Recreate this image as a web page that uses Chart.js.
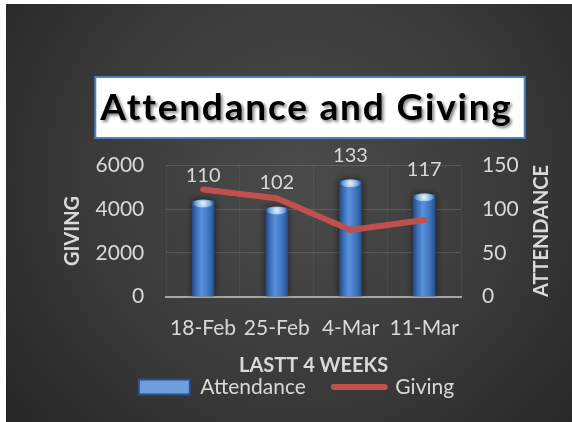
<!DOCTYPE html>
<html><head><meta charset="utf-8">
<script src="https://cdn.jsdelivr.net/npm/chart.js@4.4.1/dist/chart.umd.min.js"></script>
<style>
html,body{margin:0;padding:0;background:#fff;width:572px;height:422px;overflow:hidden}
#wrap{position:absolute;left:6px;top:4px;width:566px;height:418px}
</style></head><body>
<div id="wrap"><canvas id="c" width="566" height="418"></canvas></div>
<script>
const categories = ['18-Feb', '25-Feb', '4-Mar', '11-Mar'];
const attendance = [110, 102, 133, 117];
const giving = [4900, 4500, 3050, 3500];
const givingTicks = [0, 2000, 4000, 6000];
const attendanceTicks = [0, 50, 100, 150];
const titleText = 'Attendance and Giving';
const xTitle = 'LASTT 4 WEEKS';
const yTitle = 'GIVING';
const y1Title = 'ATTENDANCE';
const seriesNames = ['Attendance', 'Giving'];

const FONT = 'Lato, "DejaVu Sans", sans-serif';
const TXT = '#d9d9d9';
const BAR_PCT = 0.31;

function barFill(ctx) {
  const chart = ctx.chart;
  const xs = chart.scales.x;
  if (!xs || ctx.dataIndex === undefined || !isFinite(xs.width)) return '#4f81bd';
  const cx = xs.getPixelForValue(ctx.dataIndex);
  const half = (xs.width / categories.length) * BAR_PCT / 2;
  const g = chart.ctx.createLinearGradient(cx - half, 0, cx + half, 0);
  g.addColorStop(0, '#22467a');
  g.addColorStop(0.2, '#3a6eb8');
  g.addColorStop(0.42, '#5890da');
  g.addColorStop(0.62, '#4a80cc');
  g.addColorStop(0.85, '#3466ad');
  g.addColorStop(1, '#22467a');
  return g;
}

const bgPlugin = {
  id: 'bg',
  beforeDraw(chart) {
    const {ctx, width, height} = chart;
    ctx.save();
    const g = ctx.createRadialGradient(width * 0.52, height * 0.42, 10, width * 0.52, height * 0.42, width * 0.64);
    g.addColorStop(0, '#4a4a4a');
    g.addColorStop(0.55, '#3b3b3b');
    g.addColorStop(1, '#282828');
    ctx.fillStyle = g;
    ctx.fillRect(0, 0, width, height);
    ctx.restore();
  },
  beforeDatasetsDraw(chart) {
    const tb = chart.titleBlock;
    if (!tb) return;
    const ctx = chart.ctx;
    const o = chart.options.plugins.title;
    const f = Chart.helpers.toFont(o.font);
    const pad = Chart.helpers.toPadding(o.padding);
    ctx.save();
    ctx.font = f.string;
    ctx.letterSpacing = '1.8px';
    const w = ctx.measureText(titleText).width;
    const cx = (tb.left + tb.right) / 2 + 10;
    const cy = tb.top + pad.top + f.lineHeight / 2;
    const bl = cx - w / 2 - 5, br = cx + w / 2 + 12;
    ctx.fillStyle = '#ffffff';
    ctx.fillRect(bl, cy - 31, br - bl, 61);
    ctx.strokeStyle = '#4f81bd';
    ctx.lineWidth = 2;
    ctx.strokeRect(bl, cy - 31, br - bl, 61);
    ctx.textAlign = 'center';
    ctx.textBaseline = 'middle';
    ctx.filter = 'blur(1.5px)';
    ctx.fillStyle = 'rgba(0,0,0,0.5)';
    ctx.fillText(titleText, cx + 2, cy + 2.5);
    ctx.filter = 'none';
    ctx.fillStyle = '#000000';
    ctx.fillText(titleText, cx, cy);
    ctx.restore();
  },
  beforeDatasetDraw(chart, args) {
    if (args.index === 0) {
      chart.ctx.save();
      chart.ctx.shadowColor = 'rgba(0,0,0,0.65)';
      chart.ctx.shadowBlur = 7;
    }
  },
  afterDatasetDraw(chart, args) {
    if (args.index === 0) {
      const ctx = chart.ctx;
      ctx.restore();
      ctx.save();
      args.meta.data.forEach(el => {
        const hw = el.width / 2;
        const g = ctx.createRadialGradient(el.x, el.y + 3, 1, el.x, el.y + 3, hw);
        g.addColorStop(0, 'rgba(225,240,255,0.95)');
        g.addColorStop(0.6, 'rgba(160,205,245,0.6)');
        g.addColorStop(1, 'rgba(120,170,230,0)');
        ctx.fillStyle = g;
        ctx.beginPath();
        ctx.ellipse(el.x, el.y + 3, hw - 1, 4, 0, 0, Math.PI * 2);
        ctx.fill();
      });
      ctx.restore();
    }
  },
  afterDatasetsDraw(chart) {
    const ctx = chart.ctx;
    const meta = chart.getDatasetMeta(0);
    ctx.save();
    ctx.font = '20px ' + FONT;
    ctx.fillStyle = TXT;
    ctx.textAlign = 'center';
    ctx.textBaseline = 'middle';
    meta.data.forEach((el, i) => {
      ctx.fillText(String(attendance[i]), el.x, el.y - 25);
    });
    ctx.restore();
  },
  afterDraw(chart) {
    const s = chart.scales.y1;
    const ctx = chart.ctx;
    const t = s.options.title;
    const f = Chart.helpers.toFont(t.font);
    const pad = Chart.helpers.toPadding(t.padding);
    const x = s.right - pad.top - f.lineHeight / 2;
    const y = (s.top + s.bottom) / 2;
    ctx.save();
    ctx.translate(x, y);
    ctx.rotate(-Math.PI / 2);
    ctx.font = f.string;
    ctx.fillStyle = TXT;
    ctx.textAlign = 'center';
    ctx.textBaseline = 'middle';
    ctx.fillText(y1Title, 0, 0);
    ctx.restore();
  }
};

new Chart(document.getElementById('c'), {
  data: {
    labels: categories,
    datasets: [
      {
        type: 'bar', label: seriesNames[0], data: attendance, yAxisID: 'y1', order: 2,
        backgroundColor: barFill, borderWidth: 0,
        categoryPercentage: 1, barPercentage: BAR_PCT
      },
      {
        type: 'line', label: seriesNames[1], data: giving, yAxisID: 'y', order: 1,
        borderColor: '#c0504d', borderWidth: 6, pointRadius: 0, tension: 0,
        borderCapStyle: 'round', borderJoinStyle: 'round', fill: false
      }
    ]
  },
  options: {
    responsive: false,
    animation: false,
    devicePixelRatio: 1,
    layout: {padding: {left: 30, right: 15, top: 0, bottom: 14.5}},
    plugins: {
      tooltip: {enabled: false},
      title: {
        display: true, text: titleText, color: 'rgba(0,0,0,0)',
        font: {family: FONT, size: 37, weight: 'bold'},
        padding: {top: 81.8, bottom: 35.2}
      },
      legend: {
        position: 'bottom',
        labels: {
          color: TXT, font: {family: FONT, size: 21},
          usePointStyle: true, pointStyleWidth: 51, boxHeight: 15, padding: 28,
          generateLabels: () => [
            {text: seriesNames[0], datasetIndex: 0, pointStyle: 'rect', fillStyle: '#6c9fdc', strokeStyle: '#2a4f8a', lineWidth: 2, fontColor: TXT},
            {text: seriesNames[1], datasetIndex: 1, pointStyle: 'line', fillStyle: '#c0504d', strokeStyle: '#c0504d', lineWidth: 6, lineCap: 'round', fontColor: TXT}
          ]
        }
      }
    },
    scales: {
      x: {
        type: 'category',
        grid: {display: true, offset: true, color: 'rgba(255,255,255,0.05)', drawTicks: false},
        border: {display: true, color: '#a6a6a6', width: 2},
        ticks: {color: TXT, font: {family: FONT, size: 21}, padding: 19.4, maxRotation: 0, autoSkip: false},
        title: {display: true, text: xTitle, color: TXT, font: {family: FONT, size: 20, weight: 'bold'}, padding: {top: -6.6, bottom: -29.5}}
      },
      y: {
        position: 'left', min: 0, max: 6000,
        afterBuildTicks: (s) => { s.ticks = givingTicks.map(v => ({value: v})); },
        grid: {color: 'rgba(255,255,255,0.13)', lineWidth: 1, drawTicks: false},
        border: {display: false},
        ticks: {color: TXT, font: {family: FONT, size: 21}, padding: 22, callback: (v) => String(v)},
        title: {display: true, text: yTitle, color: TXT, font: {family: FONT, size: 20, weight: 'bold'}, padding: {top: 25, bottom: 10}}
      },
      y1: {
        position: 'right', min: 0, max: 150,
        afterBuildTicks: (s) => { s.ticks = attendanceTicks.map(v => ({value: v})); },
        grid: {display: false, drawTicks: false},
        border: {display: false},
        ticks: {color: TXT, font: {family: FONT, size: 21}, padding: 21, callback: (v) => String(v)},
        title: {display: true, text: y1Title, color: 'rgba(0,0,0,0)', font: {family: FONT, size: 20, weight: 'bold'}, padding: {top: 3, bottom: -9.6}}
      }
    }
  },
  plugins: [bgPlugin]
});
</script>
</body></html>
